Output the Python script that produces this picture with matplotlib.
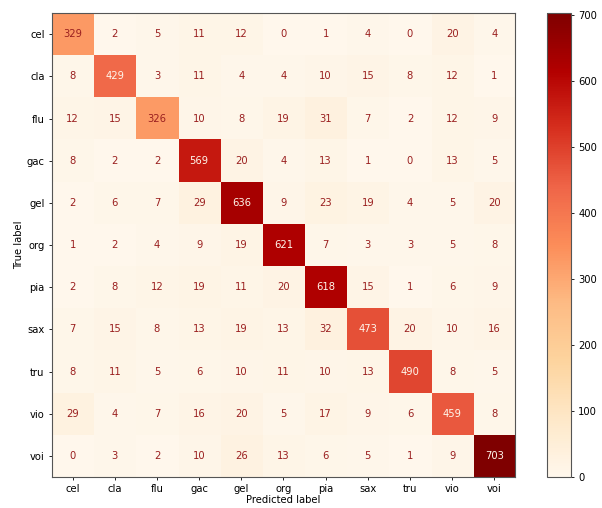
import numpy as np
import matplotlib
matplotlib.use("Agg")
import matplotlib.pyplot as plt

labels = ["cel", "cla", "flu", "gac", "gel", "org", "pia", "sax", "tru", "vio", "voi"]

# rows = true label, columns = predicted label
counts = [
    [329,   2,   5,  11,  12,   0,   1,   4,   0,  20,   4],
    [  8, 429,   3,  11,   4,   4,  10,  15,   8,  12,   1],
    [ 12,  15, 326,  10,   8,  19,  31,   7,   2,  12,   9],
    [  8,   2,   2, 569,  20,   4,  13,   1,   0,  13,   5],
    [  2,   6,   7,  29, 636,   9,  23,  19,   4,   5,  20],
    [  1,   2,   4,   9,  19, 621,   7,   3,   3,   5,   8],
    [  2,   8,  12,  19,  11,  20, 618,  15,   1,   6,   9],
    [  7,  15,   8,  13,  19,  13,  32, 473,  20,  10,  16],
    [  8,  11,   5,   6,  10,  11,  10,  13, 490,   8,   5],
    [ 29,   4,   7,  16,  20,   5,  17,   9,   6, 459,   8],
    [  0,   3,   2,  10,  26,  13,   6,   5,   1,   9, 703],
]

FS = 7.2
plt.rcParams["font.size"] = FS

cm = np.array(counts)
cmap = plt.get_cmap("OrRd")

fig = plt.figure(figsize=(6.02, 5.08), dpi=100)
ax = fig.add_axes([0.0847, 0.061, 0.7724, 0.913])
cax = fig.add_axes([0.909, 0.061, 0.040, 0.913])

im = ax.imshow(cm, cmap=cmap, vmin=cm.min(), vmax=cm.max(), interpolation="nearest")

# dark text on light cells, light text on dark cells
thresh = (cm.max() + cm.min()) / 2.0
for i in range(cm.shape[0]):
    for j in range(cm.shape[1]):
        color = cmap(0.0) if cm[i, j] > thresh else "#9a1f1f"
        ax.text(j, i, str(cm[i, j]), ha="center", va="center", color=color, fontsize=FS)

ax.set_xticks(range(len(labels)))
ax.set_xticklabels(labels)
ax.set_yticks(range(len(labels)))
ax.set_yticklabels(labels)
ax.set_xlabel("Predicted label", fontsize=FS, labelpad=1)
ax.set_ylabel("True label", fontsize=FS, labelpad=2)
ax.tick_params(labelsize=FS, length=2.5, width=0.6, pad=2.5)
for s in ax.spines.values():
    s.set_linewidth(0.8)
    s.set_color("#555555")

cb = fig.colorbar(im, cax=cax, ticks=range(0, 701, 100))
cb.ax.tick_params(labelsize=FS, length=2.5, width=0.6, pad=2.5)
cb.outline.set_linewidth(0.8)
cb.outline.set_edgecolor("#555555")

fig.savefig("out.png", dpi=100)
